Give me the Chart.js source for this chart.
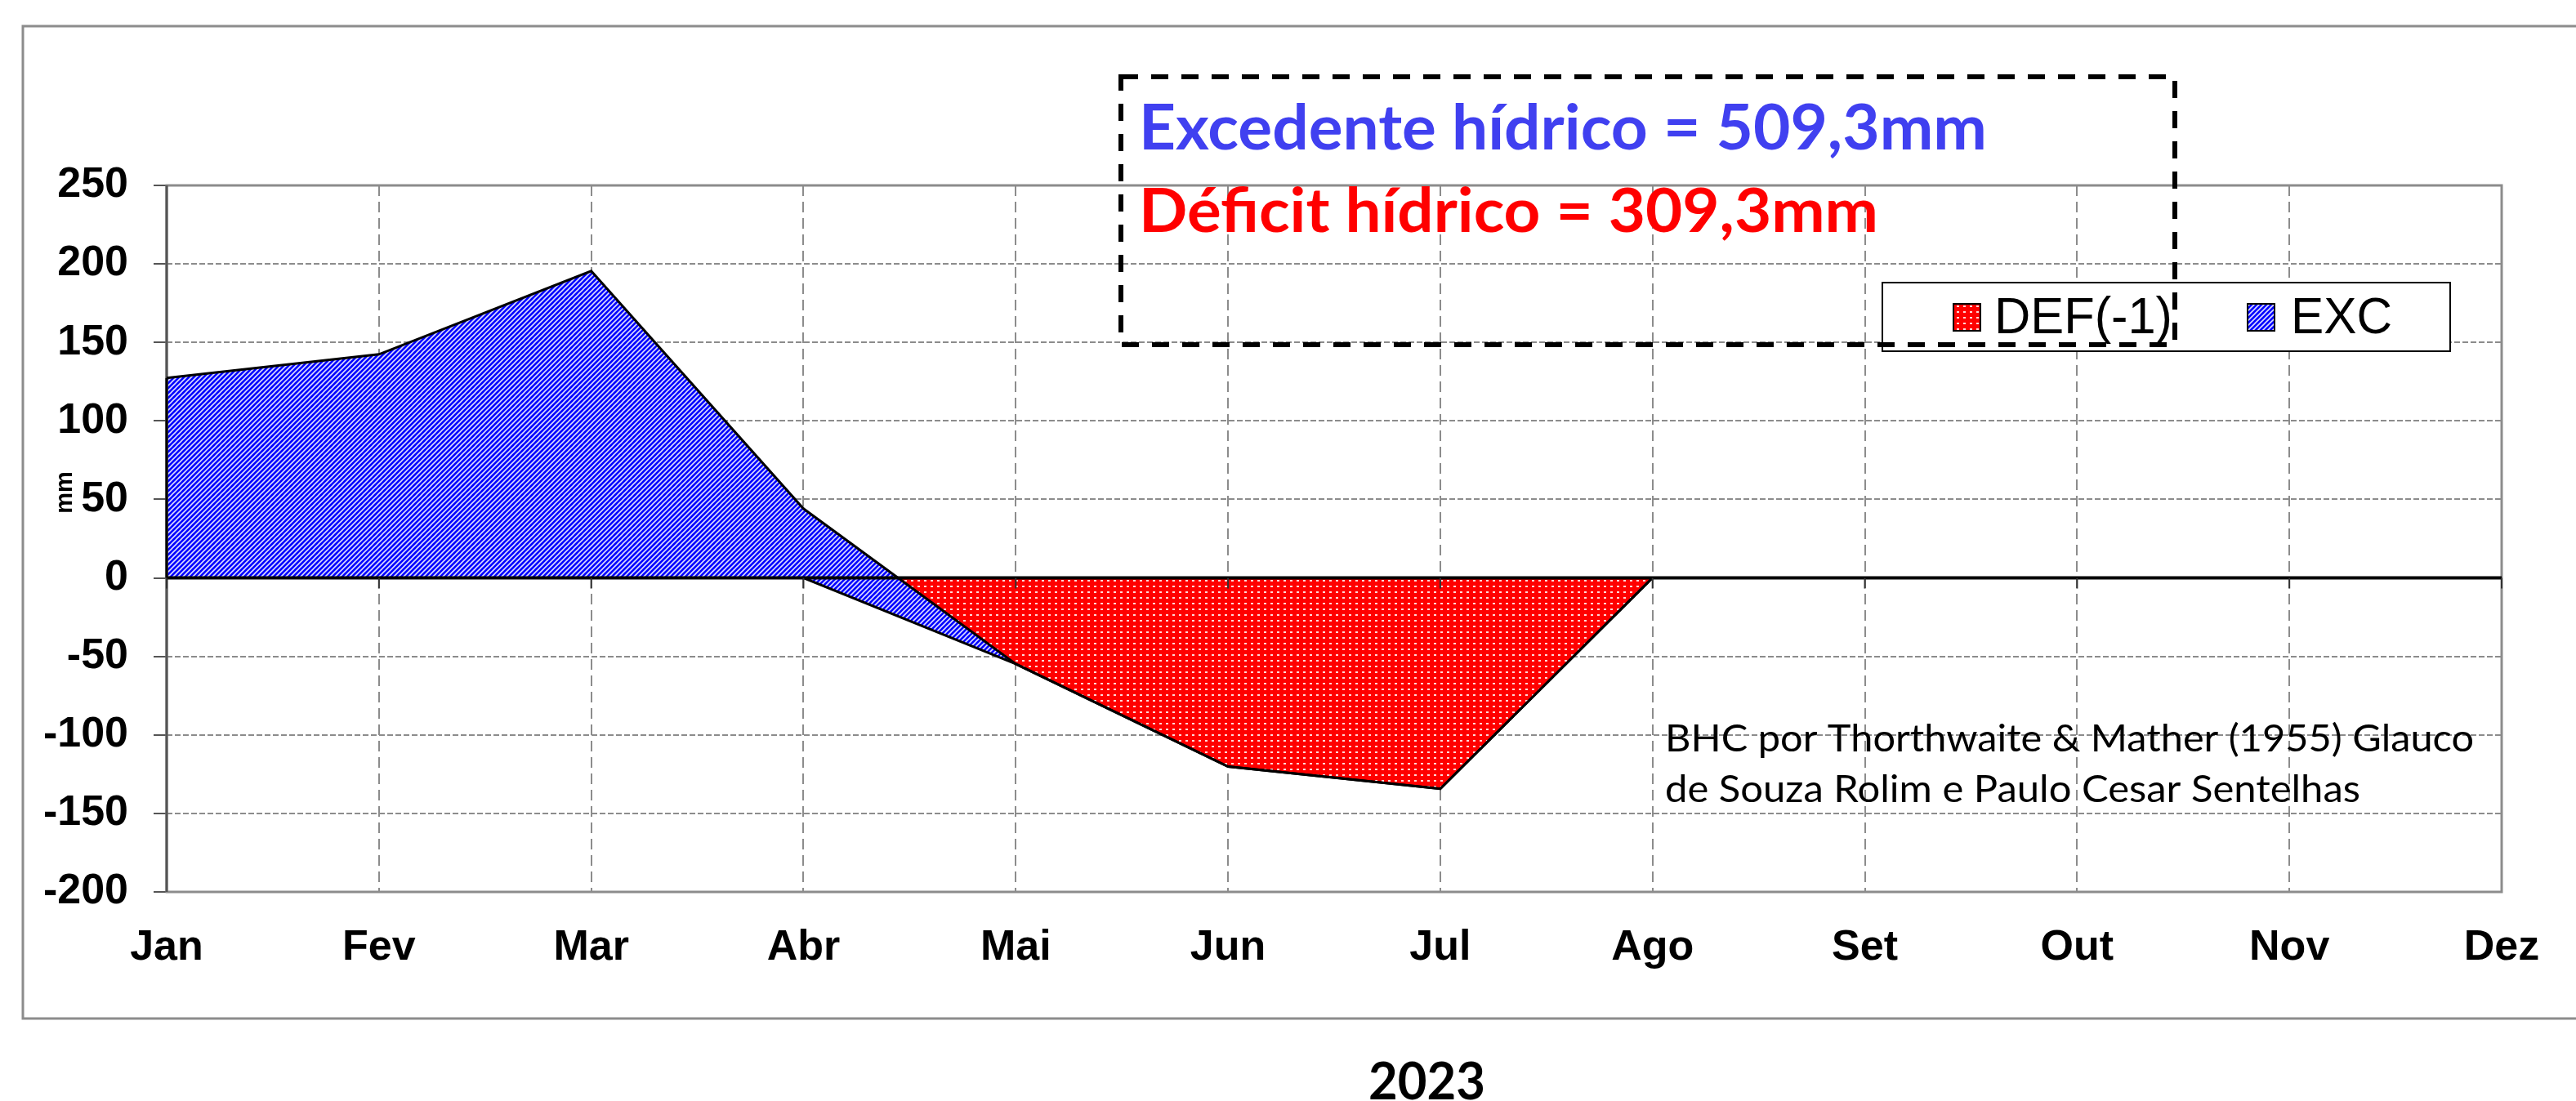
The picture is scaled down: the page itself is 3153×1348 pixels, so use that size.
<!DOCTYPE html>
<html>
<head>
<meta charset="utf-8">
<script src="https://cdn.jsdelivr.net/npm/chart.js@4.4.0/dist/chart.umd.min.js"></script>
<style>
  body{margin:0;background:#fff;}
  canvas{display:block;}
</style>
</head>
<body>
<canvas id="chartCanvas" width="3153" height="1348"></canvas>
<script>
// data
const months=['Jan','Fev','Mar','Abr','Mai','Jun','Jul','Ago','Set','Out','Nov','Dez'];
const def=[0,0,0,0,-54.8,-120.2,-134.3,0,0,0,0,0];   // DEF(-1)
const exc=[127.3,142.4,195.5,44.1,0,0,0,0,0,0,0,0];  // EXC
const yMin=-200, yMax=250, yStep=50;

const canvas=document.getElementById('chartCanvas');
const ctx=canvas.getContext('2d');

//patterns like the excel fills
function stripes(){
    const c=document.createElement('canvas');
    c.width=6;c.height=6;
    const g=c.getContext('2d');
    g.fillStyle='#0000ff';g.fillRect(0,0,6,6);
    g.strokeStyle='#dcdcff';g.lineWidth=1.6;
    g.beginPath();
    g.moveTo(0,6);g.lineTo(6,0);
    g.moveTo(-1,1);g.lineTo(1,-1);
    g.moveTo(5,7);g.lineTo(7,5);
    g.stroke();
    return ctx.createPattern(c,'repeat');
}
function dots(){
    const c=document.createElement('canvas');
    c.width=8;c.height=7;
    const g=c.getContext('2d');
    g.fillStyle='#ff0000';g.fillRect(0,0,8,7);
    g.fillStyle='#ffd8d8';g.fillRect(3,3,3,2);
    return ctx.createPattern(c,'repeat');
}
const blueFill=stripes();
const redFill=dots();

// stacked top of EXC (excel stacked area)
const excTop=exc.map((v,i)=>v+def[i]);

function fitText(c,text,x,y,w,font,color){
    c.font=font;
    const m=c.measureText(text).width;
    c.save();
    c.translate(x,y);
    c.scale(w/m,1);
    c.fillStyle=color;
    c.textAlign='left';c.textBaseline='alphabetic';
    c.fillText(text,0,0);
    c.restore();
}

//frame + zero line + annotations
const extras={
    id:'extras',
    beforeDraw(chart){
        const c=chart.ctx;
        c.save();
        c.fillStyle='#fff';c.fillRect(0,0,chart.width,chart.height);
        c.strokeStyle='#8c8c8c';c.lineWidth=3;
        c.strokeRect(28,32,chart.width+20,1215);
        c.restore();
    },
    beforeDatasetsDraw(chart){
        const c=chart.ctx, a=chart.chartArea;
        c.save();
        c.strokeStyle='#8c8c8c';c.lineWidth=3;
        c.strokeRect(a.left,a.top,a.right-a.left,a.bottom-a.top);
        c.strokeStyle='#555';
        c.beginPath();c.moveTo(a.left,a.top);c.lineTo(a.left,a.bottom);c.stroke();
        c.restore();
    },
    afterDatasetsDraw(chart){
        const c=chart.ctx, a=chart.chartArea;
        const xs=chart.scales.x, ys=chart.scales.y;
        const y0=ys.getPixelForValue(0);
        c.save();
        // left outline of the first area
        c.strokeStyle='#000';c.lineWidth=3;
        c.beginPath();c.moveTo(a.left,y0);c.lineTo(a.left,ys.getPixelForValue(excTop[0]));c.stroke();
        c.lineWidth=4;
        c.beginPath();c.moveTo(a.left,y0);c.lineTo(a.right,y0);c.stroke();
        c.lineWidth=2;c.strokeStyle='#333';
        for(let i=0;i<months.length;i++){
            const x=xs.getPixelForValue(i);
            c.beginPath();c.moveTo(x,y0);c.lineTo(x,y0+13);c.stroke();
        }
        c.restore();
    },
    afterDraw(chart){
        const c=chart.ctx;
        c.save();
        // mm label
        c.translate(80,603);
        c.rotate(-Math.PI/2);
        c.font='bold 29px "Liberation Sans", Arial, sans-serif';
        c.fillStyle='#000';c.textAlign='center';c.textBaseline='middle';
        c.fillText('mm',0,0);
        c.restore();

        // legend
        c.save();
        c.fillStyle='#fff';c.fillRect(2304,346,695,84);
        c.strokeStyle='#000';c.lineWidth=2;c.strokeRect(2304,346,695,84);
        c.fillStyle=redFill;c.fillRect(2391,372,33,33);
        c.strokeRect(2391,372,33,33);
        c.fillStyle=blueFill;c.fillRect(2751,372,33,33);
        c.strokeRect(2751,372,33,33);
        c.restore();
        fitText(c,'DEF(-1)',2441,408,218,'63px "Liberation Sans", Arial, sans-serif','#000');
        fitText(c,'EXC',2804,408,124,'63px "Liberation Sans", Arial, sans-serif','#000');

        // dashed box
        c.save();
        c.strokeStyle='#000';c.lineWidth=6;c.setLineDash([21,16]);
        c.strokeRect(1372,94,1290,328);
        c.restore();

        fitText(c,'Excedente hídrico = 509,3mm',1394,183,1038,'bold 76px Lato, sans-serif','#4040f0');
        fitText(c,'Déficit hídrico = 309,3mm',1394,284,905,'bold 74px Lato, sans-serif','#ff0000');

        fitText(c,'BHC por Thorthwaite & Mather (1955) Glauco',2038,920,990,'47px Lato, sans-serif','#000');
        fitText(c,'de Souza Rolim e Paulo Cesar Sentelhas',2038,982,851,'47px Lato, sans-serif','#000');

        fitText(c,'2023',1675,1346,143,'bold 64px Lato, sans-serif','#000');
    }
};

const data={
    labels:months,
    datasets:[
        {
            label:'EXC',
            data:excTop,
            backgroundColor:blueFill,
            borderColor:'#000',
            borderWidth:3,
            pointRadius:0,
            fill:'+1'
        },
        {
            label:'DEF(-1)',
            data:def,
            backgroundColor:redFill,
            borderColor:'#000',
            borderWidth:3,
            pointRadius:0,
            fill:'origin'
        }
    ]
};

const tickFont={family:'"Liberation Sans", Arial, sans-serif',size:52,weight:'bold'};

const config={
    type:'line',
    data:data,
    options:{
        responsive:false,
        animation:false,
        devicePixelRatio:1,
        layout:{padding:{left:0,top:227,right:91,bottom:0}},
        plugins:{
            legend:{display:false},
            tooltip:{enabled:false},
            filler:{drawTime:'beforeDatasetsDraw'}
        },
        scales:{
            x:{
                offset:false,
                grid:{color:'#8c8c8c',lineWidth:2,drawTicks:false},
                border:{display:false,dash:[13,7]},
                ticks:{font:tickFont,color:'#000',padding:37,maxRotation:0,autoSkip:false},
                afterFit(s){s.height=256;}
            },
            y:{
                min:yMin,max:yMax,
                grid:{color:'#8c8c8c',lineWidth:2,tickLength:16,tickColor:'#555',tickWidth:2},
                border:{display:false,dash:[7,3]},
                ticks:{stepSize:yStep,font:tickFont,color:'#000',padding:31},
                afterFit(s){s.width=204;}
            }
        }
    },
    plugins:[extras]
};

var myChart=new Chart(canvas,config);
</script>
</body>
</html>
